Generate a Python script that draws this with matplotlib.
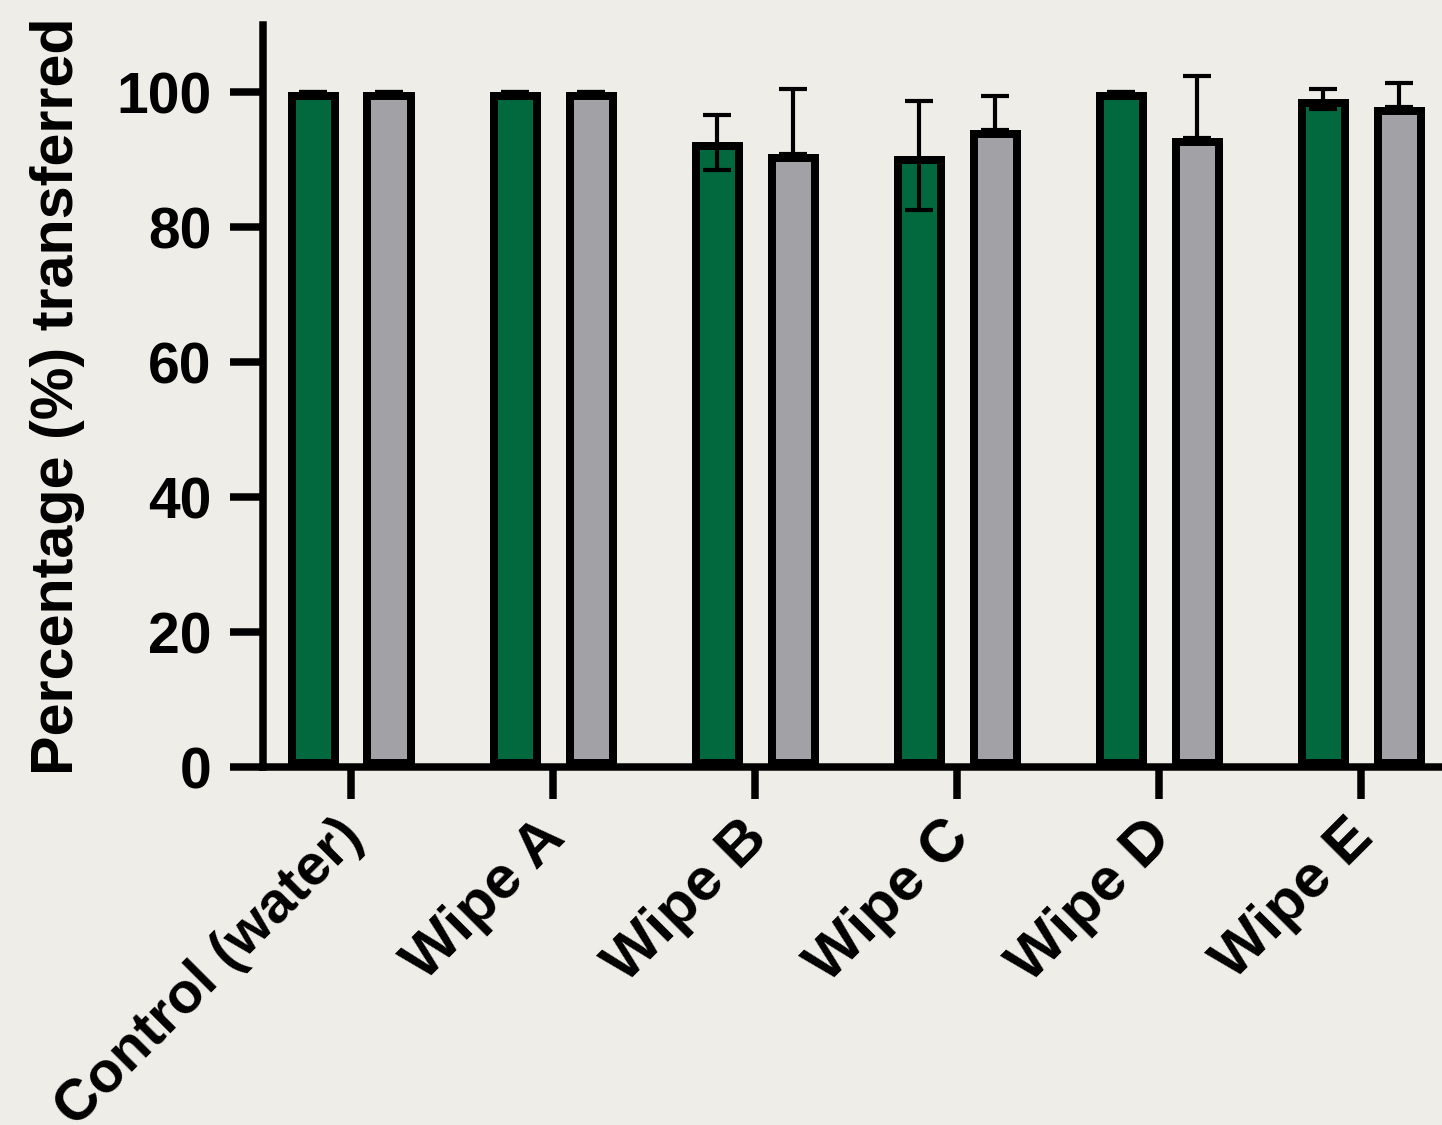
import numpy as np
import matplotlib
matplotlib.use("Agg")
import matplotlib.pyplot as plt
from matplotlib.transforms import ScaledTranslation

# Data: percentage transferred per treatment, two series
categories = ["Control (water)", "Wipe A", "Wipe B", "Wipe C", "Wipe D", "Wipe E"]
green_values = [100.0, 100.0, 92.6, 90.6, 100.0, 99.0]
green_err = [0.0, 0.0, 4.1, 8.1, 0.0, 1.5]
grey_values = [100.0, 100.0, 90.9, 94.5, 93.3, 97.9]
grey_err_up = [0.0, 0.0, 9.6, 4.9, 9.2, 3.5]
y_ticks = [0, 20, 40, 60, 80, 100]

GREEN = "#02693F"
GREY = "#A2A1A6"
BG = "#EEEDE7"

plt.rcParams["font.family"] = ["Liberation Sans", "DejaVu Sans"]
plt.rcParams["font.weight"] = "bold"

fig = plt.figure(figsize=(14.42, 11.25), dpi=100, facecolor=BG)
ax = fig.add_axes([0.1824, 0.3182, 0.8176, 0.6596])
ax.set_facecolor(BG)

x = np.arange(len(categories))
offset = 0.1876
width = 0.2525
edge_lw = 11.5

for vals, dx, color in [(green_values, -offset, GREEN), (grey_values, offset, GREY)]:
    bars = ax.bar(x + dx, vals, width=width, color=color, edgecolor="black",
                  linewidth=edge_lw, zorder=2)
    # keep the outline inside each bar
    for b in bars:
        b.set_clip_path(b)

ax.errorbar(x - offset, green_values, yerr=green_err, fmt="none", ecolor="black",
            elinewidth=3.0, capsize=10, capthick=3.0, zorder=3)
ax.errorbar(x + offset, grey_values, yerr=[np.zeros(len(grey_err_up)), grey_err_up],
            fmt="none", ecolor="black", elinewidth=3.0, capsize=10, capthick=3.0, zorder=3)

ax.set_xlim(-0.436, 5.40)
ax.set_ylim(0, 110)
ax.set_yticks(y_ticks)
ax.set_xticks(x)
ax.tick_params(axis="y", labelsize=41, width=5.4, length=24, pad=13)
ax.tick_params(axis="x", width=5.4, length=23, pad=14)
ax.set_xticklabels(categories, rotation=45, ha="right", va="top",
                   rotation_mode="anchor", fontsize=43.5, fontweight="bold")
# nudge the slanted category labels left and up
shift = ScaledTranslation(-16 / 100, 9 / 100, fig.dpi_scale_trans)
for lab in ax.get_xticklabels():
    lab.set_transform(lab.get_transform() + shift)
# the longest label is set a touch smaller so it stays on the canvas
ax.get_xticklabels()[0].set_fontsize(41.5)
for lab in ax.get_yticklabels():
    lab.set_fontweight("bold")

for side in ["top", "right"]:
    ax.spines[side].set_visible(False)
for side in ["left", "bottom"]:
    ax.spines[side].set_linewidth(5.4)
    ax.spines[side].set_capstyle("projecting")

ax.set_ylabel("Percentage (%) transferred", fontsize=42.7, fontweight="bold")
ax.yaxis.set_label_coords(-0.151, 0.5)

fig.savefig("out.png", dpi=100, facecolor=BG)
